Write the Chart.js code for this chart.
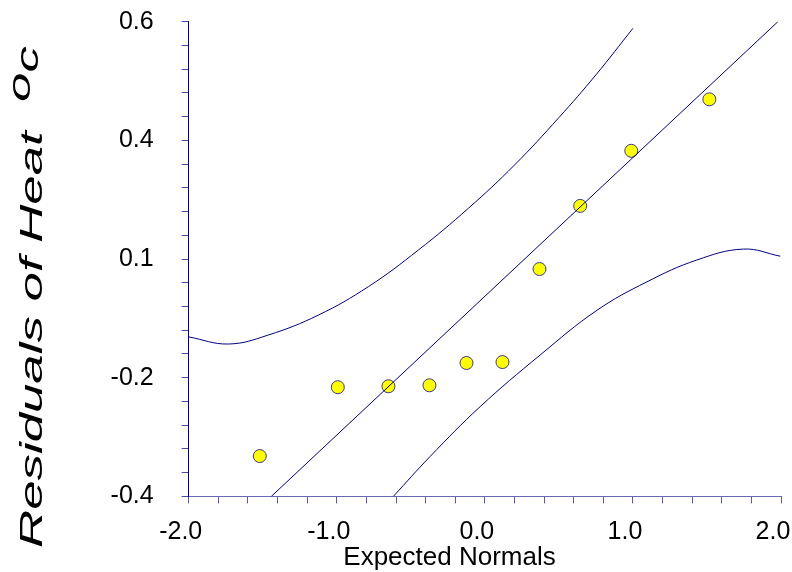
<!DOCTYPE html>
<html><head><meta charset="utf-8">
<script src="https://cdn.jsdelivr.net/npm/chart.js@4"></script>
<style>html,body{margin:0;padding:0;background:#fff;} #wrap{width:792px;height:572px;}</style>
</head><body>
<div id="wrap"><canvas id="c" width="792" height="572"></canvas></div>
<script>
// Observed points: expected normal scores vs residuals
const pointX = [-1.52, -0.993, -0.651, -0.374, -0.124, 0.119, 0.369, 0.644, 0.989, 1.516];
const pointY = [-0.315, -0.170, -0.168, -0.166, -0.119, -0.117, 0.079, 0.212, 0.328, 0.4365];
// Reference (fitted) line
const fitX = [-1.442, 1.979];
const fitY = [-0.4, 0.6];
// Upper confidence band
const upperX = [-2.0, -1.732, -1.462, -1.124, -0.786, -0.449, -0.111, 0.2, 0.5, 0.75, 1.0];
const upperY = [-0.064, -0.079, -0.060, -0.018, 0.042, 0.119, 0.207, 0.298, 0.398, 0.488, 0.586];
// Lower confidence band
const lowerX = [-0.618, -0.370, -0.032, 0.374, 0.757, 1.095, 1.432, 1.747, 1.995];
const lowerY = [-0.4, -0.316, -0.211, -0.102, -0.008, 0.052, 0.098, 0.121, 0.106];
// Tick labels
const xTickLabels = ['-2.0', '-1.0', '0.0', '1.0', '2.0'];
const yTickLabels = ['-0.4', '-0.2', '0.1', '0.4', '0.6'];
const xTitle = 'Expected Normals';
const yTitle = 'Residuals of Heat';
const yTitleUnit = ['o', 'c'];

const toXY = (xs, ys) => xs.map((x, i) => ({x: x, y: ys[i]}));
const NAVY = '#000080';
const FONT = '"Liberation Sans", Arial, sans-serif';

const titlesPlugin = {
  id: 'titles',
  afterDraw(chart) {
    const ctx = chart.ctx;
    ctx.save();
    ctx.fillStyle = '#000';
    ctx.font = '26px ' + FONT;
    ctx.textAlign = 'center';
    ctx.textBaseline = 'alphabetic';
    ctx.fillText(xTitle, 449.5, 565);
    ctx.restore();

    ctx.save();
    ctx.fillStyle = '#000';
    ctx.translate(42, 548);
    ctx.rotate(-Math.PI / 2);
    ctx.scale(1.65, 1);
    ctx.font = 'italic 32px ' + FONT;
    ctx.textAlign = 'left';
    ctx.textBaseline = 'alphabetic';
    ctx.fillText(yTitle, 0, 0);
    let w = ctx.measureText(yTitle + '  ').width;
    ctx.fillText(yTitleUnit[0], w, -12);
    w += ctx.measureText(yTitleUnit[0]).width;
    ctx.fillText(yTitleUnit[1], w, -4);
    ctx.restore();
  }
};

new Chart(document.getElementById('c'), {
  type: 'scatter',
  data: {
    datasets: [
      {data: toXY(fitX, fitY), showLine: true, borderColor: NAVY, borderWidth: 1, pointRadius: 0, fill: false},
      {data: toXY(upperX, upperY), showLine: true, borderColor: NAVY, borderWidth: 1, pointRadius: 0, fill: false, tension: 0.4},
      {data: toXY(lowerX, lowerY), showLine: true, borderColor: NAVY, borderWidth: 1, pointRadius: 0, fill: false, tension: 0.4},
      {data: toXY(pointX, pointY), showLine: false, backgroundColor: '#ffff00', borderColor: '#3a3a80', borderWidth: 1, pointRadius: 6.5, pointHoverRadius: 6.5}
    ]
  },
  options: {
    responsive: false,
    animation: false,
    devicePixelRatio: 1,
    layout: {padding: {left: 0, right: 11, top: 21.7, bottom: 0}},
    plugins: {legend: {display: false}, tooltip: {enabled: false}},
    events: [],
    scales: {
      x: {
        type: 'linear', min: -2, max: 2,
        afterFit: s => { s.height = 75.6; s.paddingLeft = 0; s.paddingRight = 0; },
        ticks: {
          stepSize: 0.2, padding: 14, labelOffset: -8, maxRotation: 0, autoSkip: false,
          color: '#000', font: {family: FONT, size: 25},
          callback: (v, i) => (i % 5 === 0 ? xTickLabels[i / 5] : '')
        },
        grid: {drawOnChartArea: false, drawTicks: true, tickLength: 7, tickColor: '#5a5aa8', lineWidth: 1},
        border: {display: true, color: '#6a6ab4', width: 1},
        title: {display: false}
      },
      y: {
        type: 'linear', min: -0.4, max: 0.6,
        afterFit: s => { s.width = 188.7; s.paddingTop = 0; s.paddingBottom = 0; },
        ticks: {
          stepSize: 0.05, padding: 28, autoSkip: false,
          color: '#000', font: {family: FONT, size: 25},
          callback: (v, i) => (i % 5 === 0 ? yTickLabels[i / 5] : '')
        },
        grid: {drawOnChartArea: false, drawTicks: true, tickLength: 7, tickColor: '#4848a0', lineWidth: 1},
        border: {display: true, color: NAVY, width: 1},
        title: {display: false}
      }
    }
  },
  plugins: [titlesPlugin]
});
</script>
</body></html>
